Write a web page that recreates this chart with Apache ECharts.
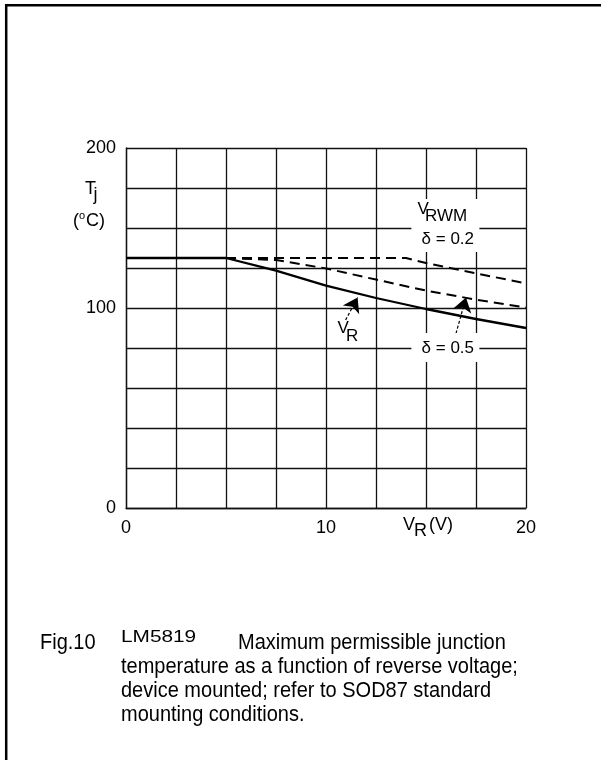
<!DOCTYPE html>
<html><head><meta charset="utf-8">
<script src="https://cdn.jsdelivr.net/npm/echarts@6/dist/echarts.min.js"></script>
<style>html,body{margin:0;padding:0;background:#fff}#c{width:601px;height:760px}</style>
</head><body><div id="c"></div>
<script>
const FONT = '"Liberation Sans", Arial, sans-serif';

// V_R curve (solid)
const vrX = [0, 5, 7.5, 10, 12.5, 15, 17.5, 20];
const vrY = [125, 125, 118.7, 111.2, 105, 99.5, 94.5, 90];
// V_RWM, delta = 0.5 (dashed, middle)
const d05X = [5, 7.5, 10, 12.5, 15, 17.5, 20];
const d05Y = [125, 124, 119.8, 114.2, 108.7, 104.2, 100.2];
// V_RWM, delta = 0.2 (dashed, upper)
const d02X = [5, 14, 15, 17.5, 20];
const d02Y = [125, 125, 122.5, 117.3, 112.3];

// tick labels as printed on the figure
const xTickLabels = {0: '0', 10: '10', 20: '20'};
const yTickLabels = {0: '0', 100: '100', 180: '200'};

// annotation arrows (tail -> tip), data coordinates
const arrowVR = [[10.98, 94], [11.58, 105.2]];
const arrowD05 = [[16.5, 87.3], [17.0, 105.2]];

const captionHead = ['Fig.10', 'LM5819', 'Maximum permissible junction'];
const captionLines = ['temperature as a function of reverse voltage;',
  'device mounted; refer to SOD87 standard', 'mounting conditions.'];

const zip = (xs, ys) => xs.map((x, i) => [x, ys[i]]);
const gridLine = {color: '#111', width: 1.3};

const chart = echarts.init(document.getElementById('c'), null, {renderer: 'canvas'});
chart.setOption({
  animation: false,
  backgroundColor: '#fff',
  grid: {left: 126, top: 148, width: 400, height: 360, show: false},
  xAxis: {
    type: 'value', min: 0, max: 20, interval: 2.5,
    axisLine: {show: true, lineStyle: gridLine},
    axisTick: {show: false},
    splitLine: {show: true, lineStyle: gridLine},
    axisLabel: {
      formatter: v => xTickLabels[v] ?? '', showMinLabel: true, showMaxLabel: true,
      fontSize: 18, fontFamily: FONT, color: '#000', margin: 11
    }
  },
  yAxis: {
    type: 'value', min: 0, max: 180, interval: 20,
    axisLine: {show: true, lineStyle: gridLine},
    axisTick: {show: false},
    splitLine: {show: true, lineStyle: gridLine},
    axisLabel: {
      formatter: v => yTickLabels[v] ?? '',
      showMinLabel: true, showMaxLabel: true,
      fontSize: 18, fontFamily: FONT, color: '#000', margin: 10
    }
  },
  series: [
    {type: 'line', data: zip(vrX, vrY), showSymbol: false, z: 3,
      lineStyle: {color: '#000', width: 2.3}},
    {type: 'line', data: zip(d05X, d05Y), showSymbol: false, z: 3,
      lineStyle: {color: '#000', width: 2, type: [10, 6]}},
    {type: 'line', data: zip(d02X, d02Y), showSymbol: false, z: 3,
      lineStyle: {color: '#000', width: 2, type: [10, 6]}},
    {type: 'lines', coordinateSystem: 'cartesian2d', z: 4,
      symbol: ['none', 'arrow'], symbolSize: [0, 14],
      lineStyle: {color: '#000', width: 1.2, type: [3, 2], opacity: 1},
      data: [{coords: arrowVR}, {coords: arrowD05}]}
  ]
});

const P = p => chart.convertToPixel({gridIndex: 0}, p);
function txt(x, y, s, size, style, extra) {
  return Object.assign({
    type: 'text', x, y, z: 20,
    style: Object.assign({text: s, fontSize: size, fontFamily: FONT, fill: '#000',
      align: 'left', verticalAlign: 'middle'}, style || {})
  }, extra || {});
}
function rectFrom(a, b) {
  const p1 = P(a), p2 = P(b);
  return {type: 'rect', z: 15, shape: {x: p1[0], y: p1[1], width: p2[0] - p1[0], height: p2[1] - p1[1]},
    style: {fill: '#fff'}};
}

const g = [];
// border
g.push({type: 'line', z: 20, shape: {x1: 6.2, y1: 4, x2: 6.2, y2: 760}, style: {stroke: '#000', lineWidth: 2.5}});
g.push({type: 'line', z: 20, shape: {x1: 5, y1: 5.2, x2: 601, y2: 5.2}, style: {stroke: '#000', lineWidth: 2.5}});
// label boxes
g.push(rectFrom([14.27, 154.5], [17.67, 128]));
g.push(rectFrom([14.27, 87.5], [17.67, 73]));
// V_RWM delta=0.2
let p = P([14.57, 149.5]); g.push(txt(p[0], p[1], 'V', 17));
p = P([14.95, 146]); g.push(txt(p[0], p[1], 'RWM', 17));
p = P([16.09, 134.5]); g.push(txt(p[0], p[1], 'δ = 0.2', 17, {align: 'center'}));
// delta=0.5
p = P([16.09, 79.75]); g.push(txt(p[0], p[1], 'δ = 0.5', 17, {align: 'center'}));
// V_R label
p = P([10.57, 89.75]); g.push(txt(p[0], p[1], 'V', 17));
p = P([11.0, 86]); g.push(txt(p[0], p[1], 'R', 17));
// axis names
g.push(txt(403, 525.5, 'V', 18));
g.push(txt(414, 531.5, 'R', 18));
g.push(txt(429, 525.5, '(V)', 18));
g.push(txt(85, 189, 'T', 18));
g.push(txt(93.5, 195, 'j', 18));
g.push(txt(73, 221.5, '(', 18));
g.push(txt(79, 216, 'o', 11));
g.push(txt(86, 221.5, 'C)', 18));
// caption
g.push(txt(40, 642.5, captionHead[0], 20, null, {scaleY: 1.1}));
g.push(txt(121, 638, captionHead[1], 16, null, {scaleX: 1.3}));
g.push(txt(238, 642.5, captionHead[2], 20, null, {scaleY: 1.1}));
captionLines.forEach((s, i) => g.push(txt(121, 666.5 + 24 * i, s, 20, null, {scaleY: 1.1})));

chart.setOption({graphic: {elements: g}});
</script></body></html>
